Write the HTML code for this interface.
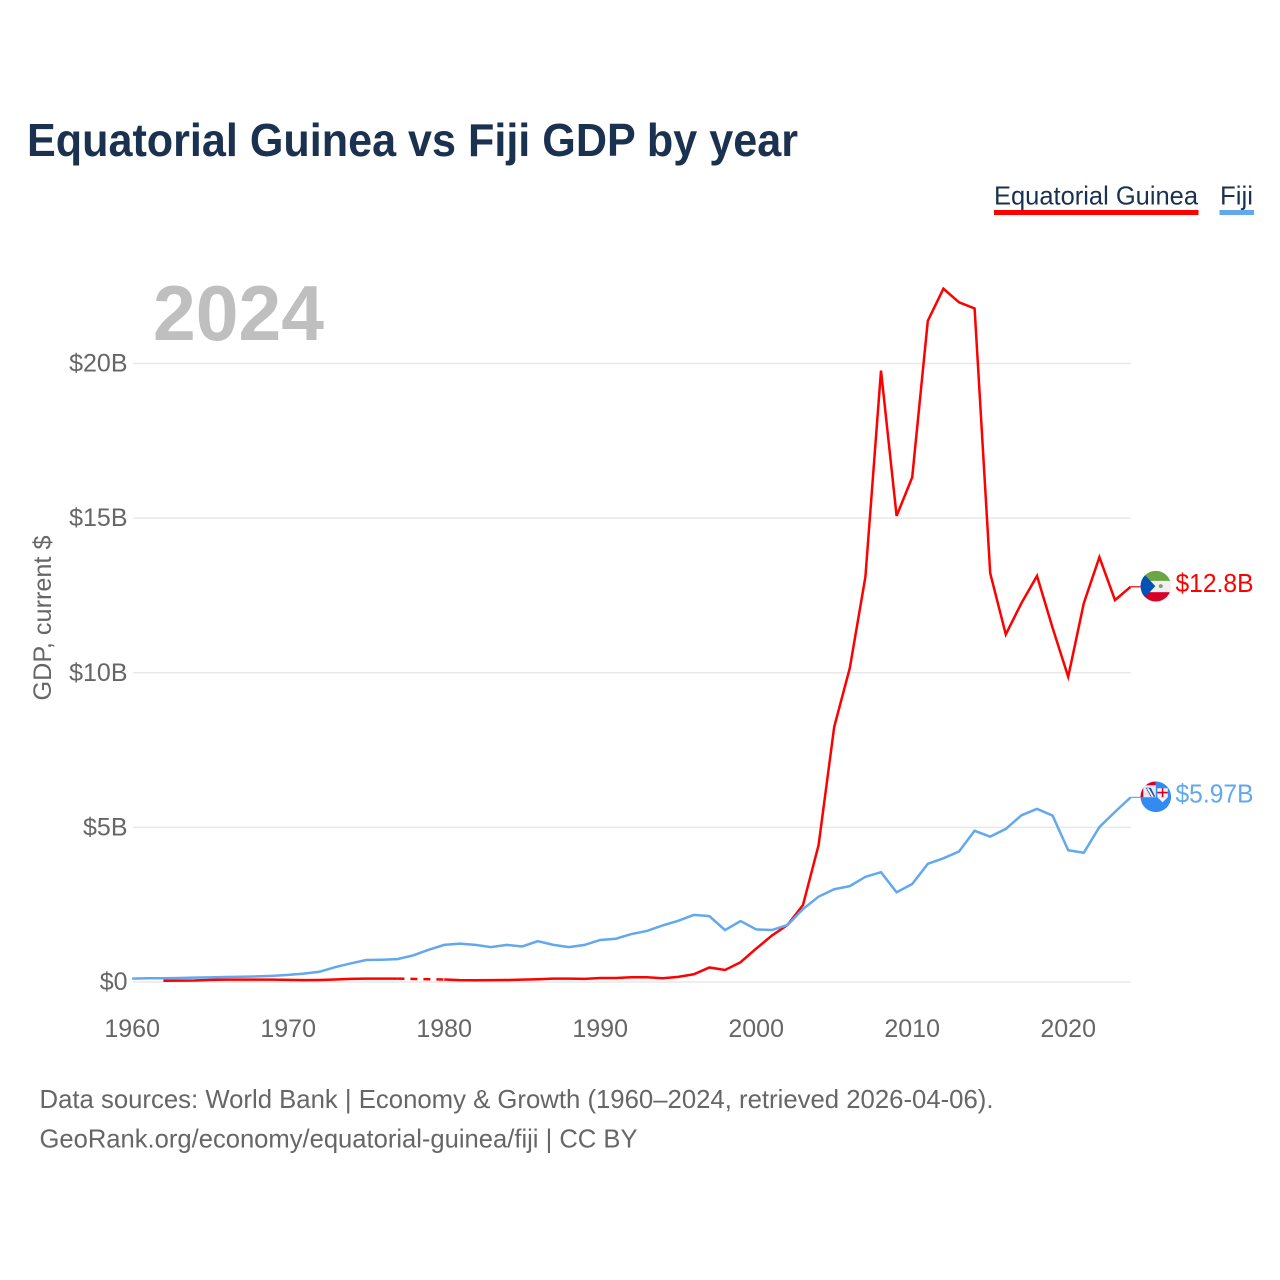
<!DOCTYPE html>
<html lang="en">
<head>
<meta charset="utf-8">
<title>Equatorial Guinea vs Fiji GDP by year</title>
<style>
html,body{margin:0;padding:0;background:#fff;}
svg{display:block;font-family:"Liberation Sans",sans-serif;}
</style>
</head>
<body>
<svg id="chart" xmlns="http://www.w3.org/2000/svg" width="1280" height="1280" viewBox="0 0 1280 1280">
  <defs>
    <clipPath id="flag-clip"><circle cx="0" cy="0" r="15.3"></circle></clipPath>
  </defs>
  <rect x="0" y="0" width="1280" height="1280" fill="#ffffff"></rect>
  <text x="27" y="156" font-size="46" font-weight="700" fill="#1a3150" textLength="771" lengthAdjust="spacingAndGlyphs">Equatorial Guinea vs Fiji GDP by year</text>

  <g>
    <g>
      <text x="994" y="204.500" font-size="26" fill="#1a3150" textLength="204" lengthAdjust="spacingAndGlyphs">Equatorial Guinea</text>
      <rect x="994" y="210" width="204.500" height="5" fill="#ff0000"></rect>
    </g>
    <g>
      <text x="1220" y="204.500" font-size="26" fill="#1a3150" textLength="33" lengthAdjust="spacingAndGlyphs">Fiji</text>
      <rect x="1219.500" y="210" width="34.500" height="5" fill="#62a8ee"></rect>
    </g>
  </g>

  <text x="153" y="340" font-size="78" font-weight="700" fill="#bfbfbf" textLength="171" lengthAdjust="spacingAndGlyphs">2024</text>

  <g id="grid"></g>
  <g id="y-ticks"></g>
  <g id="x-ticks"></g>
  <text transform="translate(51,618) rotate(-90)" text-anchor="middle" font-size="25" fill="#666666" textLength="165" lengthAdjust="spacingAndGlyphs">GDP, current $</text>

  <g id="series"></g>
  <g id="end-markers"></g>

  <text x="39.500" y="1108" font-size="26" fill="#666666" textLength="954" lengthAdjust="spacingAndGlyphs">Data sources: World Bank | Economy &amp; Growth (1960–2024, retrieved 2026-04-06).</text>
  <text x="39.500" y="1147.500" font-size="26" fill="#666666" textLength="598" lengthAdjust="spacingAndGlyphs">GeoRank.org/economy/equatorial-guinea/fiji | CC BY</text>
</svg>

<script>
// Chart data (US$ billions)
var years = [1960,1961,1962,1963,1964,1965,1966,1967,1968,1969,
             1970,1971,1972,1973,1974,1975,1976,1977,1978,1979,
             1980,1981,1982,1983,1984,1985,1986,1987,1988,1989,
             1990,1991,1992,1993,1994,1995,1996,1997,1998,1999,
             2000,2001,2002,2003,2004,2005,2006,2007,2008,2009,
             2010,2011,2012,2013,2014,2015,2016,2017,2018,2019,
             2020,2021,2022,2023,2024];
var equatorialGuineaGdp = [null,null,0.04,0.045,0.05,0.07,0.075,0.075,0.075,0.075,
             0.07,0.06,0.065,0.08,0.1,0.11,0.11,0.11,null,null,
             0.08,0.06,0.055,0.06,0.065,0.075,0.09,0.11,0.11,0.10,
             0.13,0.13,0.155,0.155,0.12,0.165,0.25,0.47,0.39,0.64,
             1.08,1.5,1.84,2.49,4.43,8.25,10.15,13.1,19.77,15.07,
             16.32,21.38,22.42,21.98,21.78,13.22,11.24,12.25,13.13,11.45,
             9.87,12.25,13.74,12.35,12.78];
var fijiGdp = [0.11,0.12,0.12,0.13,0.14,0.15,0.16,0.17,0.18,0.2,
             0.23,0.27,0.33,0.48,0.6,0.71,0.72,0.74,0.86,1.04,
             1.2,1.24,1.2,1.13,1.2,1.15,1.32,1.2,1.13,1.2,
             1.36,1.4,1.55,1.65,1.83,1.98,2.17,2.13,1.68,1.97,
             1.7,1.68,1.84,2.36,2.76,3.0,3.1,3.4,3.55,2.9,
             3.17,3.82,4.0,4.22,4.89,4.7,4.95,5.39,5.6,5.38,
             4.26,4.18,5.01,5.5,5.97];
var yTickValues = [0,5,10,15,20];
var yTickLabels = ['$0','$5B','$10B','$15B','$20B'];
var xTickValues = [1960,1970,1980,1990,2000,2010,2020];
var endLabels = ['$12.8B','$5.97B'];

var SVG_NS = 'http://www.w3.org/2000/svg';
var RED = '#ff0000';
var BLUE = '#62a8ee';
function xScale(year){ return 132.2 + (year - 1960) * 15.6; }
function yScale(v){ return 982 - v * 30.925; }
function make(tag, parent){
  var el = document.createElementNS(SVG_NS, tag);
  parent.appendChild(el);
  return el;
}
function set(el, attrs){
  for (var k in attrs) el.setAttribute(k, attrs[k]);
  return el;
}

// Gridlines and y-axis tick labels
var gridGroup = document.getElementById('grid');
var yTickGroup = document.getElementById('y-ticks');
yTickValues.forEach(function(v, i){
  var line = make('line', gridGroup);
  
  
  set(line, {x1: 133, x2: 1131, y1: yScale(v), y2: yScale(v), stroke: '#e8e8e8', 'stroke-width': 1.5});
  var label = make('text', yTickGroup);
  
  
  set(label, {x: 127.5, y: yScale(v) + 8, 'text-anchor': 'end', 'font-size': 25, fill: '#666666'});
  label.textContent = yTickLabels[i];
});

// X-axis tick labels
var xTickGroup = document.getElementById('x-ticks');
xTickValues.forEach(function(year){
  var label = make('text', xTickGroup);
  
  
  set(label, {x: xScale(year), y: 1037, 'text-anchor': 'middle', 'font-size': 25, fill: '#666666'});
  label.textContent = String(year);
});

// Series: solid runs for known values, dashed bridges across gaps
function drawSeries(values, color, name){
  var group = make('g', document.getElementById('series'));
  
  
  var run = [];
  var lastPoint = null;
  function flush(){
    if (run.length > 1) {
      var path = make('polyline', group);
      
      
      set(path, {points: run.join(' '), fill: 'none', stroke: color, 'stroke-width': 2.5, 'stroke-linejoin': 'miter'});
    }
    run = [];
  }
  var pendingGap = false;
  values.forEach(function(v, i){
    if (v === null) {
      if (lastPoint) pendingGap = true;
      flush();
      return;
    }
    var px = xScale(years[i]);
    var py = yScale(v);
    if (pendingGap) {
      var bridge = make('line', group);
      
      
      set(bridge, {x1: lastPoint[0], y1: lastPoint[1], x2: px, y2: py, stroke: color, 'stroke-width': 2.5, 'stroke-dasharray': '7 6'});
      pendingGap = false;
    }
    run.push(px + ',' + py);
    lastPoint = [px, py];
  });
  flush();
  var tail = make('line', group);
  
  
  set(tail, {x1: lastPoint[0], y1: lastPoint[1], x2: lastPoint[0] + 10, y2: lastPoint[1], stroke: color, 'stroke-width': 1.2});
}
drawSeries(equatorialGuineaGdp, RED, 'series-equatorial-guinea');
drawSeries(fijiGdp, BLUE, 'series-fiji');

// End-of-line flags and value labels
var markers = document.getElementById('end-markers');
function shape(parent, tag, attrs){
  return set(make(tag, parent), attrs);
}
function flagEquatorialGuinea(g){
  shape(g, 'rect', {x: -16, y: -16, width: 32, height: 32, fill: '#f0f0f0'});
  shape(g, 'rect', {x: -16, y: -16, width: 32, height: 10.700, fill: '#6da544'});
  shape(g, 'rect', {x: -16, y: 6, width: 32, height: 10, fill: '#d80027'});
  shape(g, 'polygon', {points: '-16,-16 -15.3,-16 -0.5,0 -15.3,16 -16,16', fill: '#0052b4'});
  shape(g, 'circle', {cx: 5, cy: 0, r: 2, fill: '#8a9a80'});
}
function flagFiji(g){
  shape(g, 'circle', {cx: 0, cy: 0, r: 16, fill: '#338af3'});
  shape(g, 'rect', {x: -16, y: -16, width: 16, height: 16.5, fill: '#e8e8ee'});
  shape(g, 'rect', {x: -14, y: -16, width: 14, height: 4.5, fill: '#d80027'});
  shape(g, 'rect', {x: -16, y: -13, width: 3.5, height: 13.5, fill: '#d80027'});
  shape(g, 'polygon', {points: '-10,-9 -5,-9 -0.5,0 -5,0', fill: '#1b4fa0'});
  shape(g, 'polygon', {points: '-9,-8.500 -7,-8.500 -2,0 -4,0', fill: '#ffffff'});
  shape(g, 'rect', {x: 1.5, y: -8.5, width: 10.5, height: 9, fill: '#f2f2f2'});
  shape(g, 'rect', {x: 1.5, y: -5, width: 10.5, height: 1.6, fill: '#d80027'});
  shape(g, 'rect', {x: 6, y: -8.5, width: 1.6, height: 9, fill: '#d80027'});
  shape(g, 'polygon', {points: '1.5,0.5 12,0.5 6.75,5.500', fill: '#f2f2f2'});
}
function drawEnd(values, color, label, drawFlag, name){
  var v = values[values.length - 1];
  var cy = yScale(v);
  var flag = make('g', markers);
  
  
  set(flag, {transform: 'translate(1155.8,' + (cy - 0.6) + ')', 'clip-path': 'url(#flag-clip)'});
  drawFlag(flag);
  var text = make('text', markers);
  
  
  set(text, {x: 1175.5, y: cy + 5, 'font-size': 25.5, fill: color, textLength: 78, lengthAdjust: 'spacingAndGlyphs'});
  text.textContent = label;
}
drawEnd(equatorialGuineaGdp, RED, endLabels[0], flagEquatorialGuinea, 'equatorial-guinea');
drawEnd(fijiGdp, BLUE, endLabels[1], flagFiji, 'fiji');
</script>
</body>
</html>
